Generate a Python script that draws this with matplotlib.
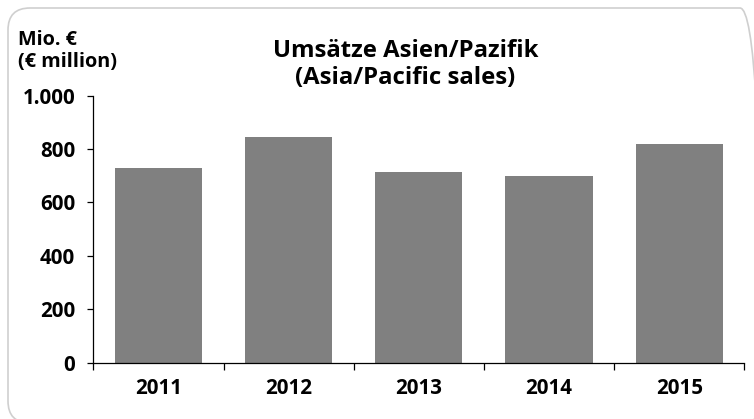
import matplotlib
matplotlib.use("Agg")
import matplotlib.pyplot as plt
from matplotlib.patches import FancyBboxPatch
from matplotlib.transforms import Affine2D

# Data
years = ["2011", "2012", "2013", "2014", "2015"]
sales = [729, 844, 713, 699, 819]
yticks = [0, 200, 400, 600, 800, 1000]
ytick_labels = ["0", "200", "400", "600", "800", "1.000"]

W, H = 754, 419
plt.rcParams['font.family'] = ['Open Sans', 'DejaVu Sans']
plt.rcParams['font.weight'] = 'bold'

fig = plt.figure(figsize=(W / 100, H / 100), dpi=100)
px = Affine2D().scale(1 / W, 1 / H) + fig.transFigure

# Rounded border
border = FancyBboxPatch((8, -4), 754, 415, boxstyle="round,pad=0,rounding_size=22",
                        transform=px, facecolor="none", edgecolor="#cfcfcf",
                        linewidth=1.2, zorder=-5)
fig.patches.append(border)

ax = fig.add_axes([93.3 / W, (H - 362.7) / H, (744.3 - 93.3) / W, (362.7 - 95.7) / H])
ax.set_facecolor("none")
ax.set_zorder(2)

x = list(range(1, len(years) + 1))
ax.bar(x, sales, width=0.67, color="#808080", zorder=2)

ax.set_xlim(0.5, len(years) + 0.5)
ax.set_ylim(0, 1000)

ax.set_yticks(yticks)
ax.set_yticklabels(ytick_labels, fontsize=14.8, fontweight='bold')
ax.tick_params(axis='y', direction='out', length=4.5, width=0.9, pad=8.5, color='black')

ax.set_xticks([i + 0.5 for i in range(0, len(years) + 1)])
ax.set_xticklabels([])
ax.set_xticks(x, minor=True)
ax.set_xticklabels(years, minor=True, fontsize=14.8, fontweight='bold')
ax.tick_params(axis='x', which='major', direction='out', length=5, width=0.9, color='black')
ax.tick_params(axis='x', which='minor', length=0, pad=11)

for s in ['top', 'right']:
    ax.spines[s].set_visible(False)
ax.spines['left'].set_linewidth(0.9)
ax.spines['bottom'].set_linewidth(0.9)
ax.spines['bottom'].set_zorder(3)

# Titles
tx = 405.5 / W
fig.text(tx, (H - 57) / H, "Umsätze Asien/Pazifik", ha='center', va='baseline',
         fontsize=17.2, fontweight='bold')
fig.text(tx, (H - 84) / H, "(Asia/Pacific sales)", ha='center', va='baseline',
         fontsize=17.2, fontweight='bold')

# Unit label
fig.text(18 / W, (H - 45) / H, "Mio. €", ha='left', va='baseline',
         fontsize=14.3, fontweight='bold')
fig.text(18 / W, (H - 67) / H, "(€ million)", ha='left', va='baseline',
         fontsize=14.3, fontweight='bold')

fig.savefig("out.png", dpi=100)
